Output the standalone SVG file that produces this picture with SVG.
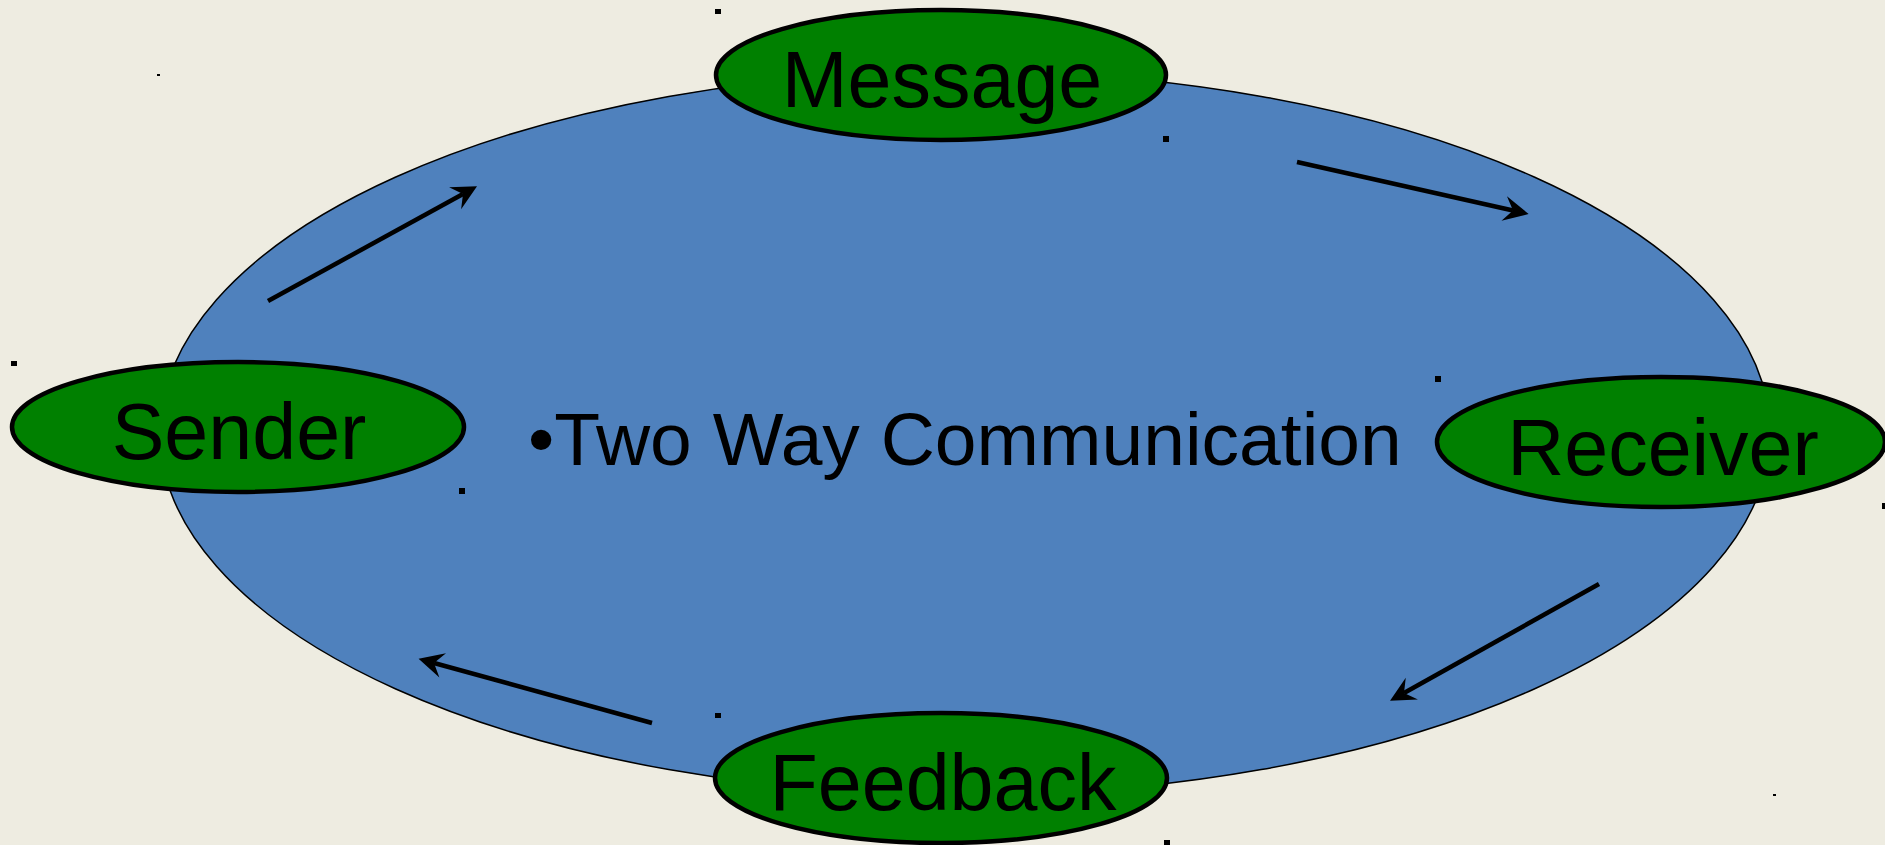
<svg xmlns="http://www.w3.org/2000/svg" width="1885" height="845" viewBox="0 0 1885 845">
  <style>
    .bg { fill: #EEECE1; }
    .ring { fill: #4F81BD; stroke: #000; stroke-width: 1.5; }
    .node { fill: #008000; stroke: #000; stroke-width: 4.5; }
    .label { font-family: "Liberation Sans", Arial, sans-serif; font-size: 79px; fill: #000; text-anchor: middle; }
    .title { font-family: "Liberation Sans", Arial, sans-serif; font-size: 75px; fill: #000; }
    .edge { stroke: #000; stroke-width: 4.5; fill: none; marker-end: url(#stealth); }
    .speck { fill: #000; }
  </style>
  <defs>
    <marker id="stealth" markerUnits="userSpaceOnUse" orient="auto" refX="0" refY="0" markerWidth="40" markerHeight="40" overflow="visible">
      <path d="M16,0 L-9,-12.5 L0,0 L-9,12.5 Z" fill="#000"/>
    </marker>
  </defs>

  <rect class="bg" x="0" y="0" width="1885" height="845"/>

  <!-- large backdrop ellipse -->
  <ellipse class="ring" cx="965" cy="433" rx="805" ry="362"/>

  <g id="title">
    <text class="title" x="528" y="465">•Two Way Communication</text>
  </g>

  <g id="connectors">
    <line class="edge" x1="268" y1="301" x2="463" y2="194"/>
    <line class="edge" x1="1297" y1="162" x2="1513" y2="210.5"/>
    <line class="edge" x1="1599" y1="584" x2="1404" y2="693"/>
    <line class="edge" x1="652" y1="723" x2="434" y2="663"/>
  </g>

  <g id="message">
    <ellipse class="node" cx="941" cy="75" rx="225" ry="65"/>
    <text class="label" x="942" y="107">Message</text>
  </g>

  <g id="sender">
    <ellipse class="node" cx="238" cy="427" rx="226" ry="65"/>
    <text class="label" x="239" y="459">Sender</text>
  </g>

  <g id="receiver">
    <ellipse class="node" cx="1661" cy="442" rx="224" ry="65"/>
    <text class="label" x="1663" y="475">Receiver</text>
  </g>

  <g id="feedback">
    <ellipse class="node" cx="941" cy="778" rx="226" ry="65"/>
    <text class="label" x="943" y="810">Feedback</text>
  </g>

  <!-- small handle marks -->
  <g id="specks">
    <rect class="speck" x="715" y="9" width="6" height="5"/>
    <rect class="speck" x="1163" y="136" width="6" height="6"/>
    <rect class="speck" x="157" y="74" width="3" height="2"/>
    <rect class="speck" x="11" y="361" width="6" height="5"/>
    <rect class="speck" x="459" y="488" width="6" height="6"/>
    <rect class="speck" x="1435" y="376" width="6" height="6"/>
    <rect class="speck" x="1882" y="503" width="3" height="6"/>
    <rect class="speck" x="715" y="713" width="6" height="5"/>
    <rect class="speck" x="1164" y="840" width="6" height="5"/>
    <rect class="speck" x="1773" y="794" width="3" height="2"/>
  </g>
</svg>
